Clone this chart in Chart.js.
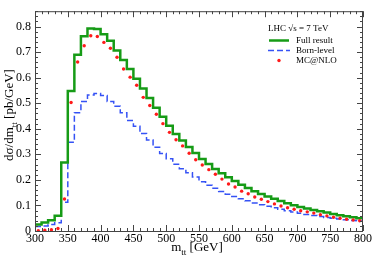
<!DOCTYPE html>
<html>
<head>
<meta charset="utf-8">
<script src="https://cdn.jsdelivr.net/npm/chart.js@4.4.0/dist/chart.umd.min.js"></script>
<style>
  html, body { margin: 0; padding: 0; background: #fff; }
  #wrap { width: 374px; height: 260px; }
</style>
</head>
<body>
<div id="wrap"><canvas id="mttChart" width="374" height="260"></canvas></div>
<script>
// Bin edges in GeV (10 GeV bins)
const binEdges = [300, 310, 320, 330, 340, 350, 360, 370, 380, 390,
                  400, 410, 420, 430, 440, 450, 460, 470, 480, 490,
                  500, 510, 520, 530, 540, 550, 560, 570, 580, 590,
                  600, 610, 620, 630, 640, 650, 660, 670, 680, 690,
                  700, 710, 720, 730, 740, 750, 760, 770, 780, 790, 800];

// Full result (green histogram), one value per bin
const fullResult = [0.025, 0.033, 0.042, 0.060, 0.268, 0.548, 0.690, 0.762, 0.792, 0.790,
                    0.770, 0.744, 0.706, 0.669, 0.634, 0.596, 0.558, 0.520, 0.482, 0.447,
                    0.412, 0.380, 0.354, 0.329, 0.305, 0.282, 0.262, 0.243, 0.226, 0.210,
                    0.196, 0.181, 0.168, 0.156, 0.145, 0.135, 0.126, 0.117, 0.109, 0.101,
                    0.094, 0.088, 0.082, 0.077, 0.072, 0.067, 0.062, 0.058, 0.054, 0.050];

// Born-level (blue dashed histogram)
const bornLevel = [0.018, 0.020, 0.025, 0.032, 0.112, 0.347, 0.463, 0.507, 0.532, 0.538,
                   0.530, 0.507, 0.488, 0.463, 0.432, 0.410, 0.381, 0.356, 0.328, 0.303,
                   0.283, 0.261, 0.244, 0.228, 0.211, 0.193, 0.179, 0.167, 0.155, 0.144,
                   0.135, 0.126, 0.118, 0.110, 0.103, 0.097, 0.091, 0.085, 0.079, 0.074,
                   0.069, 0.065, 0.061, 0.057, 0.053, 0.050, 0.047, 0.044, 0.041, 0.039];

// MC@NLO points at bin centres
const mcCenters = [305, 315, 325, 335, 345, 355, 365, 375, 385, 395,
                   405, 415, 425, 435, 445, 455, 465, 475, 485, 495,
                   505, 515, 525, 535, 545, 555, 565, 575, 585, 595,
                   605, 615, 625, 635, 645, 655, 665, 675, 685, 695,
                   705, 715, 725, 735, 745, 755, 765, 775, 785, 795];
const mcNlo = [0.001, 0.003, 0.005, 0.010, 0.125, 0.503, 0.661, 0.725, 0.764, 0.761,
               0.738, 0.715, 0.680, 0.634, 0.602, 0.570, 0.523, 0.491, 0.457, 0.420,
               0.386, 0.357, 0.333, 0.304, 0.279, 0.258, 0.240, 0.222, 0.203, 0.184,
               0.172, 0.156, 0.146, 0.133, 0.124, 0.115, 0.106, 0.098, 0.091, 0.085,
               0.079, 0.075, 0.070, 0.064, 0.059, 0.054, 0.050, 0.046, 0.043, 0.040];

// Tick labels
const xTicks = [300, 350, 400, 450, 500, 550, 600, 650, 700, 750, 800];
const yTicks = [0, 0.1, 0.2, 0.3, 0.4, 0.5, 0.6, 0.7, 0.8];

const serif = 'Liberation Serif';

// step points: each bin value held from its left edge to the next edge
function stepPoints(vals) {
    return binEdges.map(function (x, i) {
        return { x: x, y: vals[Math.min(i, vals.length - 1)] };
    });
}

// text with a subscript part
function drawParts(ctx, parts, x, y, size) {
    let total = 0;
    parts.forEach(function (p) {
        ctx.font = (p.sub ? size * 0.7 : size) + 'px "' + serif + '"';
        p.w = ctx.measureText(p.t).width;
        total += p.w;
    });
    let cx = x - total / 2;
    parts.forEach(function (p) {
        ctx.font = (p.sub ? size * 0.7 : size) + 'px "' + serif + '"';
        ctx.fillText(p.t, cx, p.sub ? y + size * 0.3 : y);
        cx += p.w;
    });
}

// Frame, inward ticks, legend and axis titles
const framePlugin = {
    id: 'frame',
    afterDraw: function (chart) {
        const ctx = chart.ctx;
        const a = chart.chartArea;
        const xs = chart.scales.x, ys = chart.scales.y;
        ctx.save();
        ctx.strokeStyle = '#444';
        ctx.lineWidth = 1;
        ctx.strokeRect(a.left + 0.5, a.top + 0.5, a.right - a.left - 1, a.bottom - a.top);

        ctx.beginPath();
        for (let v = 300; v <= 800; v += 10) {
            const px = Math.round(xs.getPixelForValue(v)) + 0.5;
            const len = v % 50 === 0 ? 6 : 3;
            ctx.moveTo(px, a.bottom); ctx.lineTo(px, a.bottom - len);
            ctx.moveTo(px, a.top); ctx.lineTo(px, a.top + len);
        }
        for (let k = 0; k <= 43; k++) {
            const v = k * 0.02;
            const py = Math.round(ys.getPixelForValue(v)) + 0.5;
            const len = k % 5 === 0 ? 6 : 3;
            ctx.moveTo(a.left, py); ctx.lineTo(a.left + len, py);
            ctx.moveTo(a.right, py); ctx.lineTo(a.right - len, py);
        }
        ctx.stroke();

        // legend
        ctx.fillStyle = '#000';
        ctx.textBaseline = 'middle';
        ctx.textAlign = 'left';
        ctx.font = '9px "' + serif + '"';
        ctx.fillText('LHC \u221As = 7 TeV', 268, 29);
        ctx.fillText('Full result', 296, 41);
        ctx.fillText('Born-level', 296, 51);
        ctx.fillText('MC@NLO', 296, 60.5);

        ctx.strokeStyle = '#169b16';
        ctx.lineWidth = 2.5;
        ctx.beginPath(); ctx.moveTo(269, 40.5); ctx.lineTo(289, 40.5); ctx.stroke();
        ctx.strokeStyle = '#3552f5';
        ctx.lineWidth = 1.5;
        ctx.setLineDash([6, 3]);
        ctx.beginPath(); ctx.moveTo(268, 50.5); ctx.lineTo(290, 50.5); ctx.stroke();
        ctx.setLineDash([]);
        ctx.fillStyle = '#ff1a1a';
        ctx.beginPath(); ctx.arc(279, 60.5, 1.7, 0, Math.PI * 2); ctx.fill();

        // axis titles
        ctx.fillStyle = '#000';
        ctx.textBaseline = 'alphabetic';
        drawParts(ctx, [{ t: 'm' }, { t: 'tt', sub: true }, { t: ' [GeV]' }], 197, 251, 13);
        ctx.translate(13, 115);
        ctx.rotate(-Math.PI / 2);
        drawParts(ctx, [{ t: 'd\u03c3/dm' }, { t: 'tt', sub: true }, { t: ' [pb/GeV]' }], 0, 0, 13);
        ctx.restore();
    }
};

new Chart(document.getElementById('mttChart'), {
    type: 'line',
    data: {
        datasets: [
            {
                label: 'MC@NLO',
                data: mcCenters.map(function (x, i) { return { x: x, y: mcNlo[i] }; }),
                showLine: false,
                pointRadius: 1.7,
                pointBorderWidth: 0,
                pointBackgroundColor: '#ff1a1a',
                order: 0
            },
            {
                label: 'Full result',
                data: stepPoints(fullResult),
                stepped: true,
                borderColor: '#169b16',
                borderWidth: 2.5,
                pointRadius: 0,
                fill: false,
                order: 1
            },
            {
                label: 'Born-level',
                data: stepPoints(bornLevel),
                stepped: true,
                borderColor: '#3552f5',
                borderWidth: 1.5,
                borderDash: [6, 3],
                pointRadius: 0,
                fill: false,
                order: 2
            }
        ]
    },
    options: {
        responsive: false,
        animation: false,
        devicePixelRatio: 1,
        layout: { padding: { top: 3, right: 11, left: 0, bottom: 0 } },
        plugins: { legend: { display: false }, tooltip: { enabled: false } },
        scales: {
            x: {
                type: 'linear',
                min: 300,
                max: 800,
                afterBuildTicks: function (s) { s.ticks = xTicks.map(function (v) { return { value: v }; }); },
                afterFit: function (s) { s.height = 29; },
                grid: { display: false, drawTicks: false },
                border: { display: false },
                ticks: {
                    font: { family: serif, size: 12 },
                    color: '#000',
                    padding: 1,
                    maxRotation: 0,
                    autoSkip: false
                }
            },
            y: {
                min: 0,
                max: 0.86,
                afterBuildTicks: function (s) { s.ticks = yTicks.map(function (v) { return { value: v }; }); },
                afterFit: function (s) { s.width = 35; },
                grid: { display: false, drawTicks: false },
                border: { display: false },
                ticks: {
                    font: { family: serif, size: 12 },
                    color: '#000',
                    padding: 4,
                    callback: function (v) { return v === 0 ? '0' : v.toFixed(1); }
                }
            }
        }
    },
    plugins: [framePlugin]
});
</script>
</body>
</html>
